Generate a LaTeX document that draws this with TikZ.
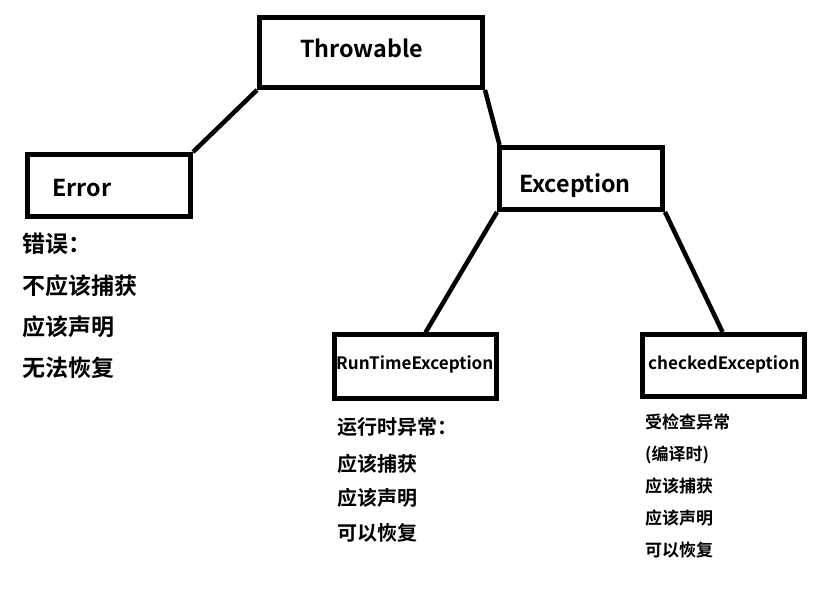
\documentclass[tikz,border=0pt]{standalone}
\usepackage{fontspec}
\setmainfont{Noto Sans CJK SC}[BoldFont={Noto Sans CJK SC Bold}]
\usetikzlibrary{calc}
\begin{document}
\begin{tikzpicture}[x=1pt,y=-1pt,
  box/.style={draw=black,line width=5pt,rectangle,inner sep=0pt},
  conn/.style={draw=black,line width=4.5pt},
  title/.style={anchor=base west,inner sep=0pt,font=\bfseries\fontsize{23.3}{27}\selectfont},
  small/.style={anchor=base west,inner sep=0pt,font=\bfseries\fontsize{17.1}{20}\selectfont},
  errtxt/.style={anchor=base west,inner sep=0pt,font=\bfseries\fontsize{23}{27}\selectfont},
  rttxt/.style={anchor=base west,inner sep=0pt,font=\bfseries\fontsize{20}{24}\selectfont},
  cktxt/.style={anchor=base west,inner sep=0pt,font=\bfseries\fontsize{17}{20}\selectfont}]
\useasboundingbox[fill=white] (0,0) rectangle (828,596);
% boxes
\node[box,minimum width=223pt,minimum height=70pt] (thr) at (371,52.5) {};
\node[box,minimum width=163pt,minimum height=62pt] (err) at (109,185.5) {};
\node[box,minimum width=163pt,minimum height=62pt] (exc) at (581,178.5) {};
\node[box,minimum width=162pt,minimum height=63pt] (rte) at (415.5,366.5) {};
\node[box,minimum width=162.5pt,minimum height=62pt] (chk) at (723.25,365.5) {};
% box titles
\node[title] (thrt) at (300,58) {Throwable};
\node[title] (errt) at (52,197) {Error};
\node[title] (exct) at (519,193) {Exception};
\node[small] (rtet) at (336,370) {RunTimeException};
\node[small] (chkt) at (648,370) {checkedException};
% connectors
\coordinate (excin) at ($(exc.north west)+(2.5,0)$);
\coordinate (rtein) at ($(rte.north west)+(93.5,0)$);
\coordinate (chkin) at ($(chk.north west)+(83,0)$);
\draw[conn] (thr.south west) -- (err.north east);
\draw[conn] (thr.south east) -- (excin);
\draw[conn] (exc.south west) -- (rtein);
\draw[conn] (exc.south east) -- (chkin);
% Error notes
\node[errtxt] (e1) at (22,253) {错误：};
\node[errtxt] (e2) at (22,295) {不应该捕获};
\node[errtxt] (e3) at (22,335) {应该声明};
\node[errtxt] (e4) at (22,376) {无法恢复};
% RunTime notes
\node[rttxt] (r1) at (337,434) {运行时异常：};
\node[rttxt] (r2) at (337,471) {应该捕获};
\node[rttxt] (r3) at (337,505) {应该声明};
\node[rttxt] (r4) at (337,540) {可以恢复};
% checked notes
\node[cktxt] (c1) at (645,428) {受检查异常};
\node[cktxt] (c2) at (645,460.5) {(编译时)};
\node[cktxt] (c3) at (645,492) {应该捕获};
\node[cktxt] (c4) at (645,524) {应该声明};
\node[cktxt] (c5) at (645,556) {可以恢复};
\end{tikzpicture}
\end{document}
